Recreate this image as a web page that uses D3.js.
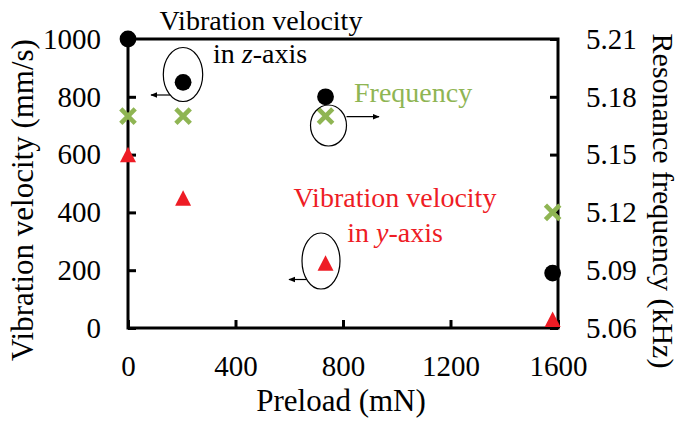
<!DOCTYPE html>
<html>
<head>
<meta charset="utf-8">
<script src="https://cdn.jsdelivr.net/npm/d3@7"></script>
<style>
  html, body { margin: 0; padding: 0; background: #fff; }
  svg text { font-family: "Liberation Serif", "Times New Roman", serif; }
</style>
</head>
<body>
<svg id="chart" width="681" height="422"></svg>
<script>
// Preload (mN) for each measurement
const preload = [0, 205, 735, 1580];
// Vibration velocity in z-axis (mm/s)
const velocityZ = [1000, 850, 800, 190];
// Vibration velocity in y-axis (mm/s)
const velocityY = [600, 450, 225, 30];
// Resonance frequency (kHz)
const frequency = [5.17, 5.17, 5.17, 5.12];

const xTicks = [0, 400, 800, 1200, 1600];
const yTicks = [0, 200, 400, 600, 800, 1000];
const fTicks = [5.06, 5.09, 5.12, 5.15, 5.18, 5.21];

const GREEN = "#8fb553";
const RED = "#ee1c25";

const svg = d3.select("#chart");
const plotLeft = 128, plotRight = 558, plotTop = 39, plotBottom = 328;

const x = d3.scaleLinear().domain([0, 1600]).range([plotLeft, plotRight]);
const y = d3.scaleLinear().domain([0, 1000]).range([plotBottom, plotTop]);
const yF = d3.scaleLinear().domain([5.06, 5.21]).range([plotBottom, plotTop]);

// arrowhead for the callout arrows
svg.append("defs").append("marker")
  .attr("id", "arrow")
  .attr("viewBox", "0 0 10 10")
  .attr("refX", 9).attr("refY", 5)
  .attr("markerWidth", 7).attr("markerHeight", 7)
  .attr("markerUnits", "userSpaceOnUse")
  .attr("orient", "auto")
  .append("path").attr("d", "M0,1 L10,5 L0,9 Z").attr("fill", "#000");

// axes (ticks point into the plot)
function styleAxis(g, size) {
  g.select(".domain").remove();
  g.selectAll(".tick line").attr("stroke", "#000").attr("stroke-width", 3);
  g.selectAll(".tick text").attr("fill", "#000").style("font-size", size + "px");
}

svg.append("g")
  .attr("transform", `translate(${plotLeft},0)`)
  .call(d3.axisLeft(y).tickValues(yTicks).tickSize(-8).tickPadding(27).tickFormat(d3.format("d")))
  .call(g => styleAxis(g, 29));

svg.append("g")
  .attr("transform", `translate(${plotRight},0)`)
  .call(d3.axisRight(yF).tickValues(fTicks).tickSize(-8).tickPadding(28).tickFormat(d3.format(".2f")))
  .call(g => styleAxis(g, 29));

svg.append("g")
  .attr("transform", `translate(0,${plotBottom})`)
  .call(d3.axisBottom(x).tickValues(xTicks).tickSize(-8).tickPadding(27).tickFormat(d3.format("d")))
  .call(g => styleAxis(g, 29));

// plot frame
svg.append("rect")
  .attr("x", plotLeft).attr("y", plotTop)
  .attr("width", plotRight - plotLeft).attr("height", plotBottom - plotTop)
  .attr("fill", "none").attr("stroke", "#000").attr("stroke-width", 3);

// axis titles
svg.append("text")
  .attr("transform", "translate(33,200) rotate(-90)")
  .attr("text-anchor", "middle").style("font-size", "31px")
  .text("Vibration velocity (mm/s)");

svg.append("text")
  .attr("transform", "translate(653,201) rotate(90)")
  .attr("text-anchor", "middle").style("font-size", "30px")
  .text("Resonance frequency (kHz)");

svg.append("text")
  .attr("x", 341).attr("y", 411)
  .attr("text-anchor", "middle").style("font-size", "31px")
  .text("Preload (mN)");

// data markers
const zData = preload.map((p, i) => ({ p, v: velocityZ[i] }));
const yData = preload.map((p, i) => ({ p, v: velocityY[i] }));
const fData = preload.map((p, i) => ({ p, f: frequency[i] }));

svg.append("g").selectAll("circle").data(zData).join("circle")
  .attr("cx", d => x(d.p)).attr("cy", d => y(d.v))
  .attr("r", 8.4).attr("fill", "#000");

const cross = 7.2;
svg.append("g").selectAll("path").data(fData).join("path")
  .attr("transform", d => `translate(${x(d.p)},${yF(d.f)})`)
  .attr("d", `M${-cross},${-cross}L${cross},${cross}M${-cross},${cross}L${cross},${-cross}`)
  .attr("stroke", GREEN).attr("stroke-width", 4.6).attr("fill", "none");

const tw = 16, th = 15.5;
svg.append("g").selectAll("path").data(yData).join("path")
  .attr("transform", d => `translate(${x(d.p)},${y(d.v)})`)
  .attr("d", `M0,${-th / 2}L${tw / 2},${th / 2}L${-tw / 2},${th / 2}Z`)
  .attr("fill", RED);

// callout ellipses with arrows pointing to the axis each series uses
function callout(cx, cy, rx, ry, ax, ay, bx) {
  svg.append("ellipse")
    .attr("cx", cx).attr("cy", cy).attr("rx", rx).attr("ry", ry)
    .attr("fill", "none").attr("stroke", "#000").attr("stroke-width", 1.2);
  svg.append("line")
    .attr("x1", ax).attr("y1", ay).attr("x2", bx).attr("y2", ay)
    .attr("stroke", "#000").attr("stroke-width", 1.2)
    .attr("marker-end", "url(#arrow)");
}
callout(183, 74.5, 19.7, 27, 170, 95, 151);
callout(328.5, 125.5, 18, 20.5, 346.5, 116.7, 379);
callout(321, 261, 19, 28, 306.5, 279.5, 289);

// series labels
const zLabel = svg.append("text").attr("text-anchor", "middle").style("font-size", "28px").attr("fill", "#000");
zLabel.append("tspan").attr("x", 261).attr("y", 30).text("Vibration velocity");
const zLine2 = zLabel.append("tspan").attr("x", 260).attr("y", 63);
zLine2.append("tspan").text("in ");
zLine2.append("tspan").style("font-style", "italic").text("z");
zLine2.append("tspan").text("-axis");

svg.append("text")
  .attr("x", 354).attr("y", 102)
  .style("font-size", "28px").attr("fill", GREEN)
  .text("Frequency");

const yLabel = svg.append("text").attr("text-anchor", "middle").style("font-size", "28px").attr("fill", RED);
yLabel.append("tspan").attr("x", 395).attr("y", 207).text("Vibration velocity");
const yLine2 = yLabel.append("tspan").attr("x", 395).attr("y", 242);
yLine2.append("tspan").text("in ");
yLine2.append("tspan").style("font-style", "italic").text("y");
yLine2.append("tspan").text("-axis");
</script>
</body>
</html>
